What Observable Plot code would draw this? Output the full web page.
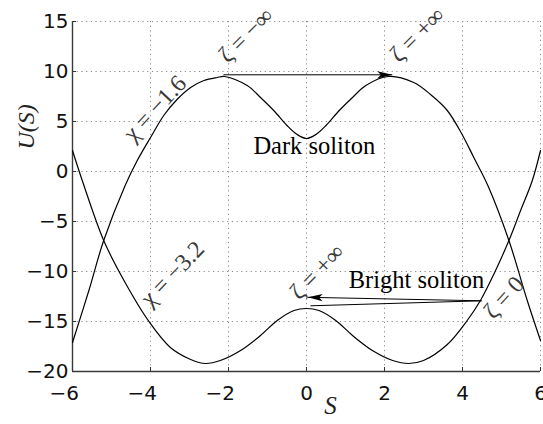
<!DOCTYPE html>
<html>
<head>
<meta charset="utf-8">
<script src="https://cdn.jsdelivr.net/npm/d3@7"></script>
<script src="https://cdn.jsdelivr.net/npm/@observablehq/plot@0.6"></script>
<style>
  html, body { margin: 0; padding: 0; background: #fff; }
  #chart svg { display: block; }
</style>
</head>
<body>
<div id="chart"></div>
<script>
// Potential U(S) for two values of chi
const sUpper = [-6, -5.58, -5.2, -4.65, -4.34, -4, -3.66, -3.32, -2.97, -2.63, -2.29, -2.1, -1.52, -1.18, -0.84, -0.5, -0.24, 0,
                0.24, 0.5, 0.84, 1.18, 1.52, 2.1, 2.75, 3.18, 3.61, 3.99, 4.29, 4.65, 5.19, 5.66, 6];
const uUpper = [-17.1, -11.9, -6.9, -1.4, 1.1, 3.4, 5.6, 7.2, 8.4, 9.1, 9.4, 9.5, 8.6, 7.4, 6.1, 4.6, 3.7, 3.3,
                3.7, 4.6, 6.1, 7.4, 8.6, 9.5, 8.9, 7.7, 6.1, 3.7, 1.4, -1.4, -6.9, -12.9, -16.9];

const sLower = [-6, -5.75, -5.2, -4.68, -4.04, -3.49, -2.97, -2.59, -2.21, -1.69, -1.18, -0.75, -0.32, 0,
                0.32, 0.75, 1.18, 1.69, 2.21, 2.62, 3.0, 3.61, 4.12, 4.46, 4.8, 5.19, 5.49, 5.79, 6];
const uLower = [2.1, -0.9, -6.9, -10.9, -15.0, -17.6, -18.8, -19.2, -18.9, -17.9, -16.4, -14.9, -13.9, -13.7,
                -13.9, -14.9, -16.4, -17.9, -18.9, -19.2, -18.9, -17.3, -14.9, -12.9, -10.3, -6.9, -3.9, -0.9, 2.1];

// Tick values
const xTicks = [-6, -4, -2, 0, 2, 4, 6];
const yTicks = [-20, -15, -10, -5, 0, 5, 10, 15];

// Soliton arrows (tail -> head)
const arrowS1 = [-2.13, 4.49];
const arrowU1 = [9.67, -12.93];
const arrowS2 = [2.2, 0.03];
const arrowU2 = [9.67, -12.58];
// companion stroke of the bright-soliton arrow
const wedgeS1 = [4.49], wedgeU1 = [-12.93], wedgeS2 = [0.10], wedgeU2 = [-13.43];

// Rotated math labels
const mathText = ["χ = −1.6", "ζ = −∞", "ζ = +∞", "χ = −3.2", "ζ = +∞", "ζ = 0"];
const mathS = [-3.885, -1.55, 2.84, -3.44, 0.27, 5.06];
const mathU = [6.32, 13.62, 13.67, -10.23, -10.03, -12.6];

// Plain text labels
const noteText = ["Dark soliton", "Bright soliton"];
const noteS = [0.2, 2.82];
const noteU = [1.75, -11.66];

// ---- layout ----
const width = 543, height = 424;
const margin = {top: 21, right: 3, bottom: 53, left: 72};
const xDomain = [-6, 6], yDomain = [-20, 15];
const frameW = width - margin.left - margin.right;
const frameH = height - margin.top - margin.bottom;
const kx = frameW / (xDomain[1] - xDomain[0]);
const ky = frameH / (yDomain[1] - yDomain[0]);

const curves = [
  ...sUpper.map((s, i) => ({chi: "-1.6", s, u: uUpper[i]})),
  ...sLower.map((s, i) => ({chi: "-3.2", s, u: uLower[i]}))
];
const arrows = arrowS1.map((s, i) => {
  const x1 = s, y1 = arrowU1[i], x2 = arrowS2[i], y2 = arrowU2[i];
  const ang = Math.atan2(-(y2 - y1) * ky, (x2 - x1) * kx) * 180 / Math.PI + 90;
  return {x1, y1, x2, y2, ang};
});
const wedges = wedgeS1.map((s, i) => ({x1: s, y1: wedgeU1[i], x2: wedgeS2[i], y2: wedgeU2[i]}));
const mathAngles = [-47, -45, -45, -46, -46, -48];
const mathLabels = mathText.map((t, i) => ({t, s: mathS[i], u: mathU[i], r: mathAngles[i]}));
const notes = noteText.map((t, i) => ({t, s: noteS[i], u: noteU[i]}));

// filled arrowhead with a notched back, tip at the origin pointing up
const arrowHead = {
  draw(ctx) {
    ctx.moveTo(0, 0);
    ctx.lineTo(-3.6, 15);
    ctx.lineTo(0, 11.5);
    ctx.lineTo(3.6, 15);
    ctx.closePath();
  }
};

const serif = "Liberation Serif, Times New Roman, serif";
const sans = "DejaVu Sans, Liberation Sans, sans-serif";
const gridStyle = {stroke: "#8a8a8a", strokeOpacity: 1, strokeWidth: 1, strokeDasharray: "1.2,3.5"};

const chart = Plot.plot({
  width, height,
  marginTop: margin.top, marginRight: margin.right, marginBottom: margin.bottom, marginLeft: margin.left,
  x: {domain: xDomain},
  y: {domain: yDomain},
  style: {fontFamily: sans, fontSize: "20px", background: "#fff", overflow: "visible"},
  marks: [
    Plot.gridX(xTicks, gridStyle),
    Plot.gridY(yTicks, gridStyle),
    // inward major ticks
    Plot.ruleX(xTicks, {stroke: "#333", strokeWidth: 1, insetTop: frameH - 4}),
    Plot.ruleY(yTicks, {stroke: "#333", strokeWidth: 1, insetRight: frameW - 4}),
    // axis lines
    Plot.ruleX([xDomain[0]], {stroke: "#3a3a3a", strokeWidth: 1.4}),
    Plot.ruleY([yDomain[0]], {stroke: "#3a3a3a", strokeWidth: 1.4}),
    Plot.axisY(yTicks, {tickSize: 0, tickPadding: 4, fontSize: 20, fontFamily: sans, fill: "#111", label: null}),
    Plot.axisX(xTicks, {tickSize: 0, tickPadding: 14, fontSize: 20, fontFamily: sans, fill: "#111", textAnchor: "end", dx: 6.5, label: null}),
    // axis titles
    Plot.text(["S"], {frameAnchor: "bottom", dx: 24, dy: 42, fontFamily: serif, fontStyle: "italic", fontSize: 25, fill: "#222"}),
    Plot.text(["U(S)"], {frameAnchor: "left", dx: -46, dy: -47, rotate: -90, fontFamily: serif, fontStyle: "italic", fontSize: 24, fill: "#222"}),
    // potential curves
    Plot.line(curves, {x: "s", y: "u", z: "chi", curve: "catmull-rom", stroke: "#000", strokeWidth: 1.2}),
    // arrows
    Plot.link(wedges, {x1: "x1", y1: "y1", x2: "x2", y2: "y2", stroke: "#000", strokeWidth: 1}),
    Plot.link(arrows, {x1: "x1", y1: "y1", x2: "x2", y2: "y2", stroke: "#000", strokeWidth: 1}),
    Plot.dot(arrows, {x: "x2", y: "y2", symbol: arrowHead, rotate: "ang", fill: "#000", stroke: "none"}),
    // labels
    Plot.text(notes, {x: "s", y: "u", text: "t", lineAnchor: "bottom", fontFamily: serif, fontSize: 24.5, fill: "#000"}),
    Plot.text(mathLabels, {x: "s", y: "u", text: "t", rotate: "r", fontFamily: serif, fontSize: 24, fill: "#3a3a3a", ariaLabel: "math labels"})
  ]
});

// Greek symbols in italic, the rest upright
const ns = "http://www.w3.org/2000/svg";
for (const t of chart.querySelectorAll('g[aria-label="math labels"] text')) {
  const s = t.textContent;
  t.textContent = "";
  const a = document.createElementNS(ns, "tspan");
  a.setAttribute("font-style", "italic");
  a.textContent = s[0];
  const b = document.createElementNS(ns, "tspan");
  b.textContent = s.slice(1);
  t.append(a, b);
}

document.getElementById("chart").append(chart);
</script>
</body>
</html>
